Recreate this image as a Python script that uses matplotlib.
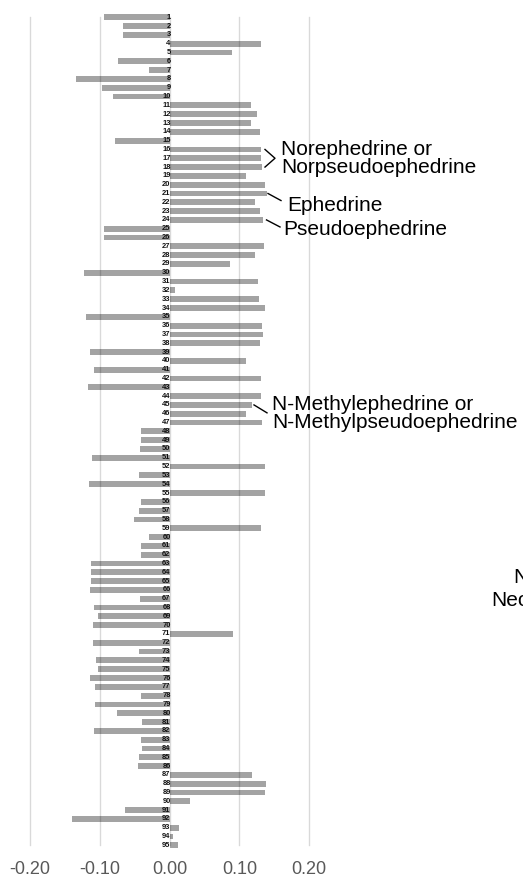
import matplotlib
matplotlib.use("Agg")
import matplotlib.pyplot as plt
import numpy as np

plt.rcParams['font.family'] = ['Liberation Sans', 'DejaVu Sans']

# Loading per variable (1..95)
variables = list(range(1, 96))
loadings = [
    -0.094, -0.066, -0.066, 0.131, 0.090, -0.074, -0.030, -0.134, -0.097, -0.081,
    0.117, 0.125, 0.117, 0.130, -0.078, 0.131, 0.131, 0.132, 0.109, 0.137,
    0.139, 0.122, 0.129, 0.134, -0.094, -0.093, 0.135, 0.122, 0.086, -0.123,
    0.127, 0.008, 0.128, 0.137, -0.119, 0.133, 0.134, 0.129, -0.114, 0.109,
    -0.108, 0.131, -0.117, 0.131, 0.118, 0.110, 0.132, -0.041, -0.041, -0.042,
    -0.111, 0.136, -0.044, -0.115, 0.137, -0.041, -0.044, -0.051, 0.131, -0.030,
    -0.041, -0.041, -0.113, -0.113, -0.113, -0.114, -0.042, -0.108, -0.102, -0.110,
    0.091, -0.110, -0.043, -0.105, -0.103, -0.114, -0.106, -0.041, -0.107, -0.075,
    -0.040, -0.108, -0.041, -0.039, -0.043, -0.045, 0.118, 0.138, 0.136, 0.030,
    -0.064, -0.139, 0.014, 0.005, 0.012,
]
xticks = [-0.20, -0.10, 0.00, 0.10, 0.20]
xtick_labels = ["-0.20", "-0.10", "0.00", "0.10", "0.20"]

W, H = 523, 876
fig = plt.figure(figsize=(W / 100, H / 100), dpi=100)
ax_left = 29.7 / W
ax_width = (309.3 - 29.7) / W
ax_top = 12.9
ax_h = 836.9
ax = fig.add_axes([ax_left, (H - ax_top - ax_h) / H, ax_width, ax_h / H])

ax.set_xlim(-0.2, 0.2)
ax.set_ylim(95.5, 0.5)

ax.barh(variables, loadings, height=0.66, color="#a3a3a3", zorder=2)

# vertical gridlines drawn over the bars
for xv in xticks:
    ax.plot([xv, xv], [0.95, 95.0], color="black", alpha=0.15, lw=1.0,
            zorder=3, clip_on=False)

for v in variables:
    ax.text(0.0015, v, str(v), ha="right", va="center", fontsize=5.4,
            fontweight="bold", color="#111111", zorder=4)

ax.set_xticks(xticks)
ax.set_xticklabels(xtick_labels)
ax.set_yticks([])
ax.tick_params(axis="x", length=0, pad=8, labelsize=13, labelcolor="#595959")
for s in ax.spines.values():
    s.set_visible(False)


def px2x(px):
    return (px - 169.5) / 699.0


# annotations
ann_kw = dict(fontsize=15, color="black", va="center", ha="left",
              linespacing=0.95, clip_on=False)
line_kw = dict(color="black", lw=1.0, clip_on=False, zorder=5)

ax.plot([px2x(265), px2x(275), px2x(265)], [16, 17, 18], **line_kw)
ax.text(px2x(281), 17.0, "Norephedrine or\nNorpseudoephedrine", **ann_kw)

ax.plot([px2x(268), px2x(281)], [21.0, 21.8], **line_kw)
ax.text(px2x(287), 22.4, "Ephedrine", **ann_kw)

ax.plot([px2x(266.5), px2x(280)], [24.0, 24.8], **line_kw)
ax.text(px2x(283), 25.1, "Pseudoephedrine", **ann_kw)

ax.plot([px2x(254), px2x(267)], [45.0, 45.9], **line_kw)
ax.text(px2x(272.5), 46.0, "N-Methylephedrine or\nN-Methylpseudoephedrine", **ann_kw)

ax.text(px2x(513), 64.6, "Norephedrine", **ann_kw)
ax.text(px2x(491), 67.2, "Neoephedrine", **ann_kw)

fig.savefig("out.png", dpi=100)
